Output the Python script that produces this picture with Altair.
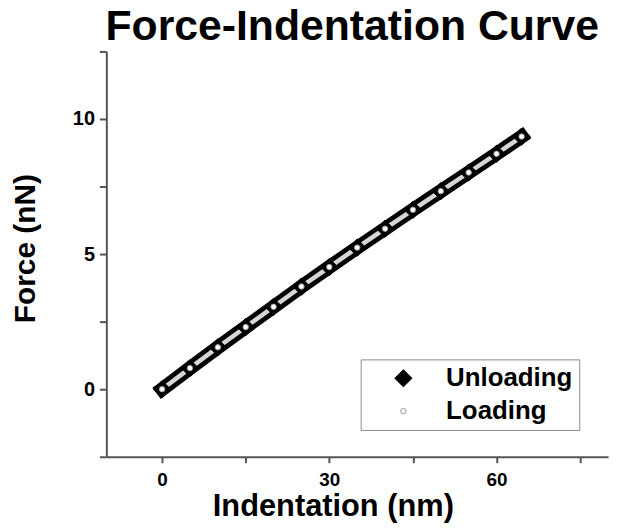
import altair as alt
import pandas as pd

# Values
indentation = [0, 5, 10, 15, 20, 25, 30, 35, 40, 45, 50, 55, 60, 64.5]
unloading_force = [0.0, 0.78, 1.55, 2.3, 3.05, 3.8, 4.52, 5.24, 5.94, 6.64, 7.33, 8.02, 8.71, 9.35]
loading_force = [0.0, 0.78, 1.55, 2.3, 3.05, 3.8, 4.52, 5.24, 5.94, 6.64, 7.33, 8.02, 8.71, 9.35]
series_names = ["Unloading", "Loading"]
x_ticks = [0, 15, 30, 45, 60, 75]
y_ticks = [-2.5, 0, 2.5, 5, 7.5, 10, 12.5]

df = pd.concat([
    pd.DataFrame({"x": indentation, "y": unloading_force, "series": "Unloading", "order": range(len(indentation))}),
    pd.DataFrame({"x": indentation, "y": loading_force, "series": "Loading", "order": range(len(indentation))}),
])

FONT = "Liberation Sans"

x_enc = alt.X("x:Q", scale=alt.Scale(domain=[-10, 80], nice=False, zero=False),
              axis=alt.Axis(values=x_ticks, labelExpr="datum.value % 30 === 0 ? datum.label : ''",
                            title="Indentation (nm)", titleX=228, titleY=59,
                            titleAlign="center", titleBaseline="alphabetic",
                            titleFontSize=31, tickSize=6, labelPadding=8, labelFontSize=19))
y_enc = alt.Y("y:Q", scale=alt.Scale(domain=[-2.5, 12.5], nice=False, zero=False),
              axis=alt.Axis(values=y_ticks, labelExpr="datum.value % 5 === 0 ? datum.label : ''",
                            title="Force (nN)", titleX=-72, titleY=198, titleAngle=270,
                            titleAlign="center", titleBaseline="alphabetic",
                            titleFontSize=30, tickSize=7, labelPadding=5, labelFontSize=20))

base = alt.Chart(df)

band = base.transform_filter(alt.datum.series == "Unloading").mark_line(
    color="black", strokeWidth=14, strokeCap="square", strokeJoin="round"
).encode(x=x_enc, y=y_enc, order="order:Q")

stripe = base.transform_filter(alt.datum.series == "Loading").mark_line(
    color="#d6d6d6", strokeWidth=4.5, strokeCap="round"
).encode(x=x_enc, y=y_enc, order="order:Q")

points = base.mark_point(filled=False, strokeWidth=1, opacity=1).encode(
    x=x_enc, y=y_enc,
    shape=alt.Shape("series:N", scale=alt.Scale(domain=series_names, range=["diamond", "circle"]), title=None),
    fill=alt.Fill("series:N", scale=alt.Scale(domain=series_names, range=["black", "white"]), title=None),
    stroke=alt.Stroke("series:N", scale=alt.Scale(domain=series_names, range=["black", "#9a9a9a"]), title=None),
    size=alt.Size("series:N", scale=alt.Scale(domain=series_names, range=[300, 30]), title=None),
)

chart = alt.layer(band, stripe, points).properties(
    width=505, height=408,
    title=alt.TitleParams("Force-Indentation Curve", fontSize=43, font=FONT, fontWeight="bold",
                          anchor="middle", dx=-5, offset=-32, baseline="alphabetic", color="black"),
    autosize=alt.AutoSizeParams(type="none"),
    padding={"left": 99, "top": 42, "right": 5, "bottom": 70},
).configure_view(stroke=None).configure_axis(
    grid=False, domainColor="#555555", domainWidth=2, tickColor="#555555", tickWidth=2,
    labelFont=FONT, labelFontWeight="bold", labelColor="black",
    titleFont=FONT, titleFontWeight="bold", titleColor="black",
).configure_legend(
    orient="none", legendX=256, legendY=310, strokeColor="#8a8a8a", fillColor="white",
    padding=6, symbolOffset=24, labelOffset=30, rowPadding=7,
    labelFont=FONT, labelFontWeight="bold", labelFontSize=26, labelColor="black",
    symbolStrokeWidth=1,
)

chart.save("out.html", embed_options={"renderer": "svg", "actions": False})
